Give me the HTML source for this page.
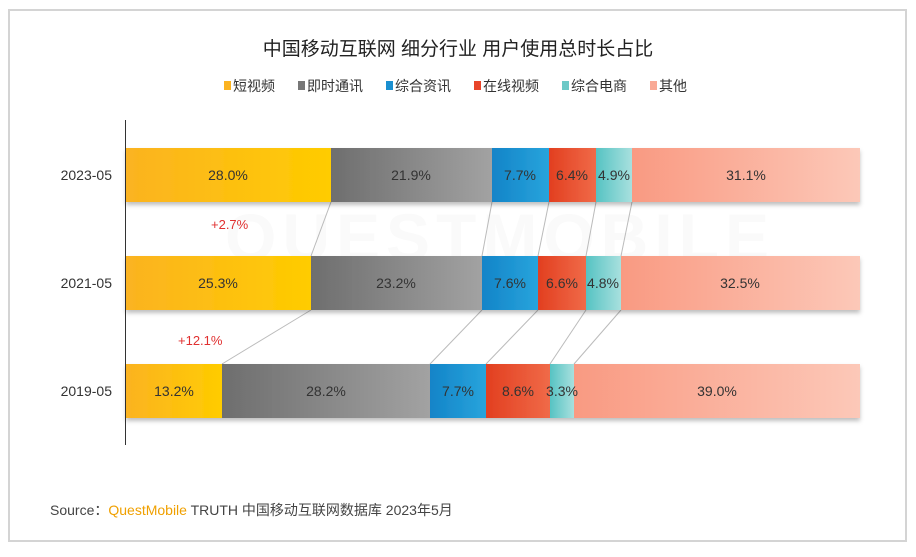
<!DOCTYPE html>
<html><head><meta charset="utf-8"><style>
body{margin:0;background:#fff;width:916px;height:552px;overflow:hidden;font-family:"Liberation Sans","Noto Sans CJK SC",sans-serif}
</style></head><body>
<svg width="916" height="552" xmlns="http://www.w3.org/2000/svg" font-family="Liberation Sans, Noto Sans CJK SC, sans-serif">
<defs>
<linearGradient id="y" x1="0" x2="1"><stop offset="0" stop-color="#fbb321"/><stop offset="1" stop-color="#ffcc00"/></linearGradient>
<linearGradient id="g" x1="0" x2="1"><stop offset="0" stop-color="#6e6e6e"/><stop offset="1" stop-color="#a2a2a2"/></linearGradient>
<linearGradient id="b" x1="0" x2="1"><stop offset="0" stop-color="#1384c8"/><stop offset="1" stop-color="#28a4dc"/></linearGradient>
<linearGradient id="r" x1="0" x2="1"><stop offset="0" stop-color="#e23f20"/><stop offset="1" stop-color="#f06a48"/></linearGradient>
<linearGradient id="c" x1="0" x2="1"><stop offset="0" stop-color="#56c3c3"/><stop offset="1" stop-color="#a8e0de"/></linearGradient>
<linearGradient id="p" x1="0" x2="1"><stop offset="0" stop-color="#f99a82"/><stop offset="1" stop-color="#fcc8b8"/></linearGradient>
<filter id="sh" x="-5%" y="-20%" width="110%" height="150%"><feDropShadow dx="0" dy="3" stdDeviation="2" flood-color="#000" flood-opacity="0.25"/></filter>
</defs>
<rect x="9" y="10" width="897" height="531" fill="#fff" stroke="#d4d4d4" stroke-width="2"/>
<text x="458" y="55" text-anchor="middle" font-size="19" fill="#222">中国移动互联网 细分行业 用户使用总时长占比</text>
<g font-size="14" fill="#333">
<rect x="224" y="81" width="7" height="9" fill="#fbb321"/><text x="233" y="91">短视频</text>
<rect x="298" y="81" width="7" height="9" fill="#777"/><text x="307" y="91">即时通讯</text>
<rect x="386" y="81" width="7" height="9" fill="#1a8fd0"/><text x="395" y="91">综合资讯</text>
<rect x="474" y="81" width="7" height="9" fill="#e8452a"/><text x="483" y="91">在线视频</text>
<rect x="562" y="81" width="7" height="9" fill="#6cc9c7"/><text x="571" y="91">综合电商</text>
<rect x="650" y="81" width="7" height="9" fill="#f9a995"/><text x="659" y="91">其他</text>
</g>
<text x="500" y="260" text-anchor="middle" font-size="66" font-weight="bold" fill="#fafafa" letter-spacing="6">QUESTMOBILE</text>
<line x1="125.5" y1="120" x2="125.5" y2="445" stroke="#333" stroke-width="1"/>
<g stroke="#bbb" stroke-width="1">
<line x1="331" y1="202" x2="311" y2="256"/><line x1="492" y1="202" x2="482" y2="256"/><line x1="549" y1="202" x2="538" y2="256"/><line x1="596" y1="202" x2="586" y2="256"/><line x1="632" y1="202" x2="621" y2="256"/>
<line x1="311" y1="310" x2="222" y2="364"/><line x1="482" y1="310" x2="430" y2="364"/><line x1="538" y1="310" x2="486" y2="364"/><line x1="586" y1="310" x2="550" y2="364"/><line x1="621" y1="310" x2="574" y2="364"/>
</g>
<g filter="url(#sh)">
<rect x="126" y="148" width="205" height="54" fill="url(#y)"/><rect x="331" y="148" width="161" height="54" fill="url(#g)"/><rect x="492" y="148" width="57" height="54" fill="url(#b)"/><rect x="549" y="148" width="47" height="54" fill="url(#r)"/><rect x="596" y="148" width="36" height="54" fill="url(#c)"/><rect x="632" y="148" width="228" height="54" fill="url(#p)"/>
<rect x="126" y="256" width="185" height="54" fill="url(#y)"/><rect x="311" y="256" width="171" height="54" fill="url(#g)"/><rect x="482" y="256" width="56" height="54" fill="url(#b)"/><rect x="538" y="256" width="48" height="54" fill="url(#r)"/><rect x="586" y="256" width="35" height="54" fill="url(#c)"/><rect x="621" y="256" width="239" height="54" fill="url(#p)"/>
<rect x="126" y="364" width="96" height="54" fill="url(#y)"/><rect x="222" y="364" width="208" height="54" fill="url(#g)"/><rect x="430" y="364" width="56" height="54" fill="url(#b)"/><rect x="486" y="364" width="64" height="54" fill="url(#r)"/><rect x="550" y="364" width="24" height="54" fill="url(#c)"/><rect x="574" y="364" width="286" height="54" fill="url(#p)"/>
</g>
<g font-size="14" fill="#333" text-anchor="middle">
<text x="228" y="180">28.0%</text><text x="411" y="180">21.9%</text><text x="520" y="180">7.7%</text><text x="572" y="180">6.4%</text><text x="614" y="180">4.9%</text><text x="746" y="180">31.1%</text>
<text x="218" y="288">25.3%</text><text x="396" y="288">23.2%</text><text x="510" y="288">7.6%</text><text x="562" y="288">6.6%</text><text x="603" y="288">4.8%</text><text x="740" y="288">32.5%</text>
<text x="174" y="396">13.2%</text><text x="326" y="396">28.2%</text><text x="458" y="396">7.7%</text><text x="518" y="396">8.6%</text><text x="562" y="396">3.3%</text><text x="717" y="396">39.0%</text>
</g>
<g font-size="14" fill="#333" text-anchor="end">
<text x="112" y="180">2023-05</text><text x="112" y="288">2021-05</text><text x="112" y="396">2019-05</text>
</g>
<g font-size="13" fill="#e03030">
<text x="211" y="229">+2.7%</text><text x="178" y="345">+12.1%</text>
</g>
<text x="50" y="515" font-size="14" fill="#444">Source：<tspan fill="#f0a000">QuestMobile</tspan> TRUTH 中国移动互联网数据库 2023年5月</text>
</svg>
</body></html>
